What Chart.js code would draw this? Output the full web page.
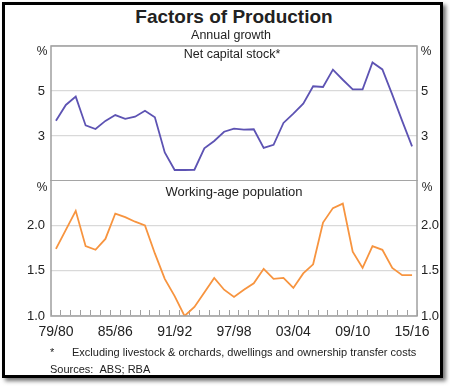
<!DOCTYPE html>
<html><head><meta charset="utf-8">
<script src="https://cdn.jsdelivr.net/npm/chart.js@4.4.1/dist/chart.umd.min.js"></script>
<style>
html,body{margin:0;padding:0;background:#fff;}
body{width:450px;height:386px;position:relative;overflow:hidden;font-family:"Liberation Sans",Arial,sans-serif;color:#222;}
#frame{position:absolute;left:2px;top:2px;width:435px;height:370px;border:3px solid #000;box-shadow:3px 3px 4px rgba(0,0,0,0.55);}
.t{position:absolute;white-space:nowrap;line-height:1;z-index:5;}
.c{transform:translate(-50%,-50%);}
.l{transform:translate(0,-50%);}
canvas{position:absolute;left:0;}
</style></head>
<body>
<div id="frame"></div>
<canvas id="cTop" width="450" height="141" style="top:40px;width:450px;height:141px"></canvas>
<canvas id="cBot" width="450" height="166" style="top:180px;width:450px;height:166px"></canvas>
<div class="t c" style="left:234px;top:16px;font-size:19px;font-weight:bold;">Factors of Production</div>
<div class="t c" style="left:231px;top:35px;font-size:12.5px;">Annual growth</div>
<div class="t c" style="left:42px;top:51px;font-size:12px;">%</div>
<div class="t c" style="left:426px;top:51px;font-size:12px;">%</div>
<div class="t c" style="left:232px;top:54px;font-size:12.5px;">Net capital stock*</div>
<div class="t c" style="left:42px;top:187px;font-size:12px;">%</div>
<div class="t c" style="left:427px;top:187px;font-size:12px;">%</div>
<div class="t c" style="left:234px;top:191px;font-size:13px;">Working-age population</div>
<div class="t l" style="left:50px;top:352px;font-size:11px;">*</div>
<div class="t l" style="left:72px;top:352px;font-size:11px;">Excluding livestock &amp; orchards, dwellings and ownership transfer costs</div>
<div class="t l" style="left:50px;top:369px;font-size:11px;">Sources:&nbsp;&nbsp;ABS; RBA</div>
<script>
const years = ['79/80','80/81','81/82','82/83','83/84','84/85','85/86','86/87','87/88','88/89','89/90','90/91','91/92','92/93','93/94','94/95','95/96','96/97','97/98','98/99','99/00','00/01','01/02','02/03','03/04','04/05','05/06','06/07','07/08','08/09','09/10','10/11','11/12','12/13','13/14','14/15','15/16'];
const tickLabels = ['79/80','85/86','91/92','97/98','03/04','09/10','15/16'];
const capitalStock = [3.68,4.38,4.75,3.47,3.31,3.67,3.93,3.76,3.86,4.12,3.83,2.27,1.49,1.49,1.5,2.45,2.78,3.19,3.33,3.28,3.30,2.47,2.61,3.58,3.99,4.44,5.21,5.18,5.95,5.50,5.07,5.07,6.27,5.96,4.84,3.67,2.54];
const workingAgePop = [1.74,1.95,2.16,1.77,1.73,1.85,2.13,2.09,2.04,2.0,1.69,1.41,1.22,1.0,1.10,1.26,1.42,1.29,1.21,1.29,1.36,1.52,1.41,1.42,1.31,1.47,1.57,2.03,2.19,2.24,1.71,1.53,1.77,1.73,1.53,1.45,1.45];
const topTicks = [3,5];
const botTicks = [1.0,1.5,2.0];

const FONT = '"Liberation Sans", Arial, sans-serif';
Chart.defaults.font.family = FONT;
Chart.defaults.color = '#222';

const framePlugin = {id:'frame', afterDraw(c){const a=c.chartArea, ctx=c.ctx; ctx.save(); ctx.strokeStyle='#a0a0a0'; ctx.lineWidth=1.5; ctx.strokeRect(a.left, a.top, a.right-a.left, a.bottom-a.top); ctx.restore();}};

function noPad(s){ s.paddingTop = 0; s.paddingBottom = 0; s.paddingLeft = 0; s.paddingRight = 0; }

function yAxis(pos, min, max, step, shown, fmt){
  return {
    position: pos, min: min, max: max,
    afterFit: s => { s.width = pos === 'left' ? 51 : 33; noPad(s); },
    grid: pos === 'left' ? {color:'#d9d9d9', lineWidth:1.2, drawTicks:false} : {display:false, drawTicks:false},
    border: {display:false},
    ticks: {stepSize: step, padding: pos === 'left' ? 6 : 4, font:{size:13}, color:'#222',
      callback: v => shown.some(s => Math.abs(s - v) < 1e-6) ? fmt(v) : ''}
  };
}

new Chart(document.getElementById('cTop'), {
  type: 'line',
  data: {labels: years, datasets: [{data: capitalStock, borderColor:'#5d53b3', borderWidth:1.8, pointRadius:0, tension:0, yAxisID:'y'}]},
  options: {
    responsive:false, animation:false, events:[],
    layout: {padding:{top:6, left:0, right:0, bottom:0}},
    plugins: {legend:{display:false}, tooltip:{enabled:false}},
    scales: {
      x: {type:'category', offset:true, display:false},
      y: yAxis('left', 1, 7, 2, topTicks, v => String(v)),
      yR: yAxis('right', 1, 7, 2, topTicks, v => String(v))
    }
  },
  plugins: [framePlugin]
});

new Chart(document.getElementById('cBot'), {
  type: 'line',
  data: {labels: years, datasets: [{data: workingAgePop, borderColor:'#f7943f', borderWidth:1.8, pointRadius:0, tension:0, yAxisID:'y'}]},
  options: {
    responsive:false, animation:false, events:[],
    layout: {padding:{top:0, left:0, right:0, bottom:0}},
    plugins: {legend:{display:false}, tooltip:{enabled:false}},
    scales: {
      x: {type:'category', offset:true,
        afterFit: s => { s.height = 30; noPad(s); },
        grid: {display:true, offset:true, drawOnChartArea:false, drawTicks:true, tickLength:-6, color:'#a0a0a0', lineWidth:1},
        border: {display:false},
        ticks: {autoSkip:false, maxRotation:0, minRotation:0, padding:14, font:{size:14}, color:'#222',
          callback: function(v){ const l = this.getLabelForValue(v); return tickLabels.includes(l) ? l : ''; }}
      },
      y: yAxis('left', 1, 2.5, 0.5, botTicks, v => v.toFixed(1)),
      yR: yAxis('right', 1, 2.5, 0.5, botTicks, v => v.toFixed(1))
    }
  },
  plugins: [framePlugin]
});
</script>
</body></html>
